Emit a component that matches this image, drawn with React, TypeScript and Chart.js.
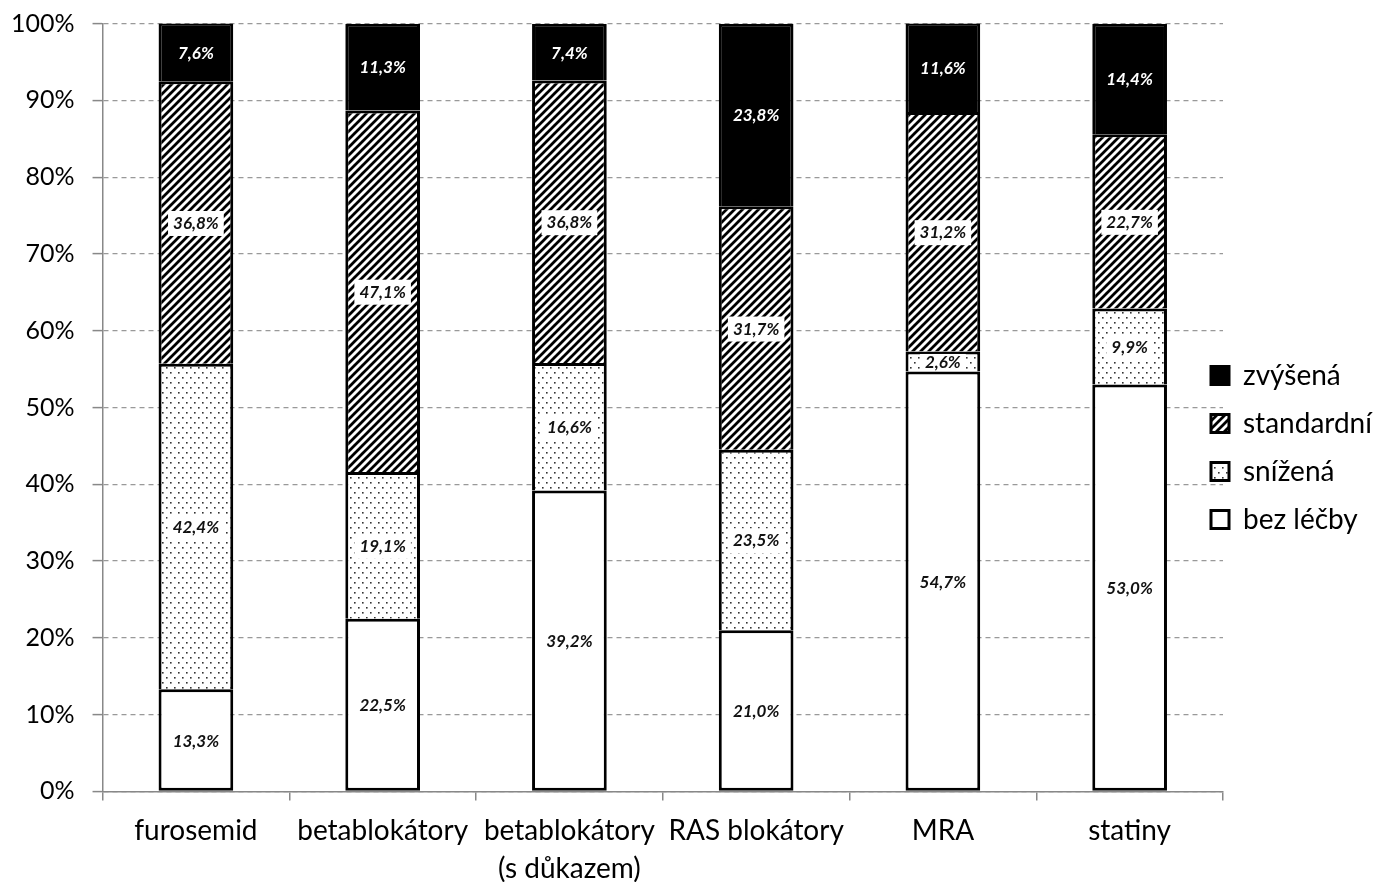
import React, { useEffect, useRef } from "react";
import { Chart, registerables } from "chart.js";

Chart.register(...registerables);

const categories: (string | string[])[] = [
  "furosemid",
  "betablokátory",
  ["betablokátory", "(s důkazem)"],
  "RAS blokátory",
  "MRA",
  "statiny",
];
const bezLecby = [13.3, 22.5, 39.2, 21.0, 54.7, 53.0];
const snizena = [42.4, 19.1, 16.6, 23.5, 2.6, 9.9];
const standardni = [36.8, 47.1, 36.8, 31.7, 31.2, 22.7];
const zvysena = [7.6, 11.3, 7.4, 23.8, 11.6, 14.4];
const yTicks = [0, 10, 20, 30, 40, 50, 60, 70, 80, 90, 100];

const FONT = "Lato";

function makeHatch(): CanvasPattern | string {
  const c = document.createElement("canvas");
  c.width = 8;
  c.height = 8;
  const g = c.getContext("2d");
  if (!g) return "#888";
  g.fillStyle = "#fff";
  g.fillRect(0, 0, 8, 8);
  g.strokeStyle = "#000";
  g.lineWidth = 2.8;
  g.beginPath();
  g.moveTo(0, 8);
  g.lineTo(8, 0);
  g.moveTo(-2, 2);
  g.lineTo(2, -2);
  g.moveTo(6, 10);
  g.lineTo(10, 6);
  g.stroke();
  return g.createPattern(c, "repeat") || "#888";
}

function makeDots(): CanvasPattern | string {
  const c = document.createElement("canvas");
  c.width = 8;
  c.height = 10;
  const g = c.getContext("2d");
  if (!g) return "#ddd";
  g.fillStyle = "#fff";
  g.fillRect(0, 0, 8, 10);
  g.fillStyle = "#333";
  g.fillRect(2, 2, 1.6, 1.6);
  g.fillRect(6, 7, 1.6, 1.6);
  return g.createPattern(c, "repeat") || "#ddd";
}

const segLabels = {
  id: "segLabels",
  afterDatasetsDraw(chart: any) {
    const ctx: CanvasRenderingContext2D = chart.ctx;
    chart.data.datasets.forEach((ds: any, di: number) => {
      const meta = chart.getDatasetMeta(di);
      meta.data.forEach((el: any, i: number) => {
        const v = ds.data[i] as number;
        const { x, y, base } = el.getProps(["x", "y", "base"], true);
        const cy = (y + base) / 2;
        const text = v.toFixed(1).replace(".", ",") + "%";
        ctx.save();
        ctx.font = `italic bold 17px ${FONT}`;
        ctx.textAlign = "center";
        ctx.textBaseline = "middle";
        const w = ctx.measureText(text).width + 10;
        const segH = Math.abs(base - y) - 3;
        const h = Math.min(25, segH);
        if (ds.labelWhite) {
          ctx.fillStyle = "#fff";
        } else {
          ctx.fillStyle = "#fff";
          ctx.fillRect(x - w / 2, cy - h / 2 + 1, w, h);
          ctx.fillStyle = "#111";
        }
        ctx.fillText(text, x, cy + 1);
        ctx.restore();
      });
    });
  },
};

const legendFix = {
  id: "legendFix",
  afterInit(chart: any) {
    const lg = chart.legend;
    if (!lg) return;
    const orig = lg.fit.bind(lg);
    lg.fit = function () {
      orig();
      this.width = 150;
    };
  },
  afterLayout(chart: any) {
    const lg = chart.legend;
    if (!lg) return;
    lg.left = 1191;
    lg.right = chart.width;
    lg.top -= 4;
    lg.bottom -= 4;
  },
};

export default function App() {
  const ref = useRef<HTMLCanvasElement | null>(null);
  useEffect(() => {
    document.body.style.margin = "0";
    if (!ref.current) return;
    Chart.defaults.font.family = FONT;
    const hatch = makeHatch();
    const dots = makeDots();
    const common = {
      borderColor: "#000",
      borderWidth: 3,
      categoryPercentage: 1,
      barPercentage: 0.4,
    };
    const chart = new Chart(ref.current, {
      type: "bar",
      data: {
        labels: categories,
        datasets: [
          { label: "bez léčby", data: bezLecby, backgroundColor: "#fff", borderSkipped: false, ...common },
          { label: "snížená", data: snizena, backgroundColor: dots, borderSkipped: "start", ...common },
          { label: "standardní", data: standardni, backgroundColor: hatch, borderSkipped: "start", ...common },
          { label: "zvýšená", data: zvysena, backgroundColor: "#000", borderSkipped: "start", labelWhite: true, ...common } as any,
        ],
      },
      options: {
        animation: false,
        responsive: false,
        layout: { padding: { top: 3, left: -7, right: 0, bottom: -18 } },
        plugins: {
          tooltip: { enabled: false },
          legend: {
            position: "right",
            reverse: true,
            labels: {
              boxWidth: 18,
              boxHeight: 18,
              padding: 20,
              color: "#000",
              font: { size: 28, family: FONT },
            },
          },
        },
        scales: {
          x: {
            stacked: true,
            grid: {
              display: true,
              drawOnChartArea: false,
              drawTicks: true,
              tickLength: 9,
              offset: true,
              color: "#888",
              lineWidth: 1.5,
            },
            border: { display: true, color: "#888", width: 1.5 },
            ticks: {
              color: "#000",
              padding: 12,
              font: { size: 28, family: FONT, lineHeight: 1.35 },
              maxRotation: 0,
              autoSkip: false,
            },
          },
          y: {
            stacked: true,
            min: 0,
            max: 100,
            afterBuildTicks: (scale: any) => {
              scale.ticks = yTicks.map((v) => ({ value: v }));
            },
            grid: {
              color: "#999",
              lineWidth: 1.2,
              tickLength: 10,
              tickColor: "#888",
              tickWidth: 1.5,
            },
            border: { display: true, color: "#888", width: 1.5, dash: [5, 4] },
            ticks: {
              color: "#000",
              padding: 18,
              font: { size: 25, family: FONT, lineHeight: 0.45 },
              callback: (v: any) => v + "%",
            },
          },
        },
      },
      plugins: [segLabels, legendFix],
    });
    return () => chart.destroy();
  }, []);
  return (
    <div style={{ width: 1373, height: 882 }}>
      <canvas ref={ref} width={1373} height={882} style={{ width: 1373, height: 882 }} />
    </div>
  );
}
